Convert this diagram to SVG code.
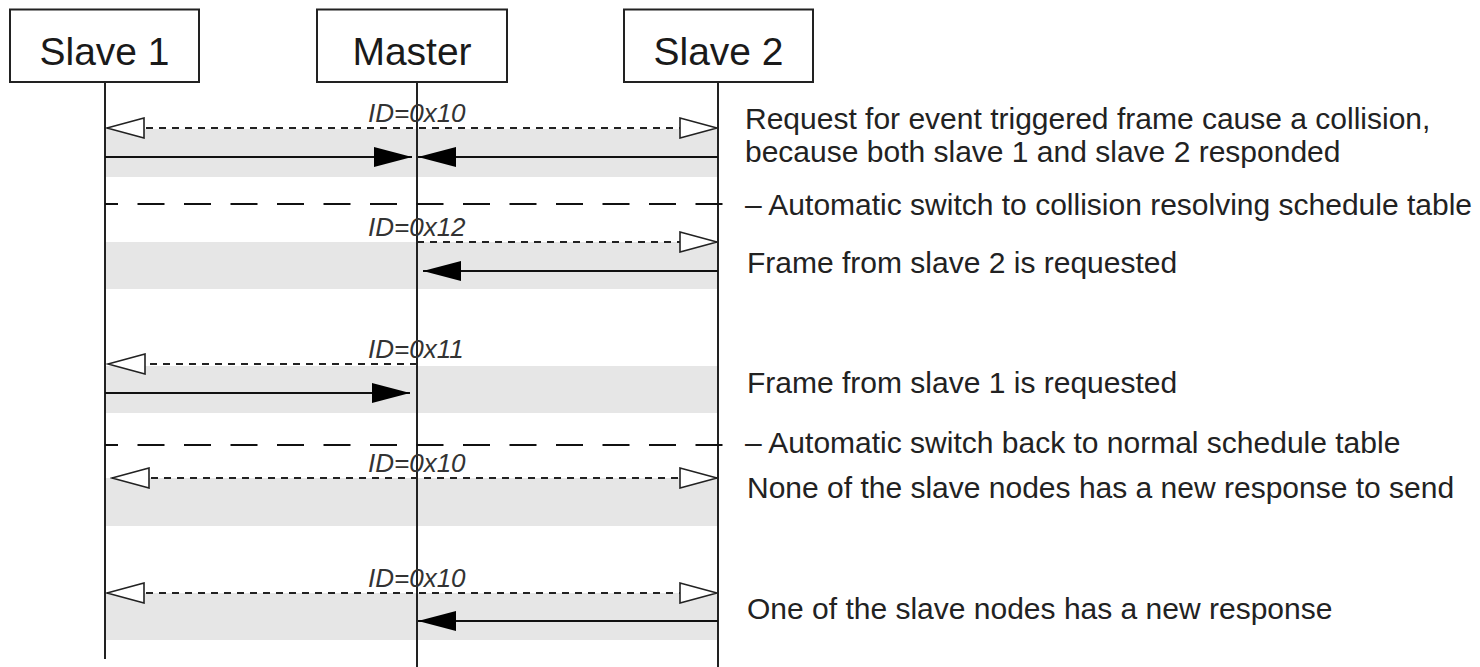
<svg xmlns="http://www.w3.org/2000/svg" width="1480" height="667" viewBox="0 0 1480 667">
<style>
.box{fill:#fff;stroke:#222;stroke-width:2}
.nlabel{font-family:"Liberation Sans",Arial,sans-serif;font-size:39px;fill:#1a1a1a;text-anchor:middle}
.life{stroke:#222;stroke-width:2;fill:none}
.band{fill:#e6e6e6}
.req{stroke:#222;stroke-width:2;stroke-dasharray:7 6;fill:none}
.resp{stroke:#111;stroke-width:2;fill:none}
.sw{stroke:#111;stroke-width:2;stroke-dasharray:27 19.5;stroke-dashoffset:14;fill:none}
.id{font-family:"Liberation Sans",Arial,sans-serif;font-size:26px;font-style:italic;fill:#333}
.note{font-family:"Liberation Sans",Arial,sans-serif;font-size:30px;fill:#222}
</style>
<defs>
<marker id="open" viewBox="0 0 40 22" markerWidth="40" markerHeight="22" refX="38" refY="11" orient="auto-start-reverse" markerUnits="userSpaceOnUse">
<path d="M1,1 L38,11 L1,21 Z" fill="#fff" stroke="#222" stroke-width="1.6"/>
</marker>
<marker id="solid" viewBox="0 0 38 20" markerWidth="38" markerHeight="20" refX="38" refY="10" orient="auto-start-reverse" markerUnits="userSpaceOnUse">
<path d="M0,0 L38,10 L0,20 Z" fill="#000"/>
</marker>
</defs>
<rect width="1480" height="667" fill="#fff"/>
<g id="bands">
<rect class="band" x="105" y="129" width="613" height="48"/>
<rect class="band" x="105" y="242" width="613" height="47"/>
<rect class="band" x="105" y="366" width="613" height="47"/>
<rect class="band" x="105" y="478" width="613" height="48"/>
<rect class="band" x="105" y="593" width="613" height="47"/>
</g>
<g id="lifelines">
<line class="life" x1="105" y1="82" x2="105" y2="659"/>
<line class="life" x1="417" y1="82" x2="417" y2="667"/>
<line class="life" x1="718" y1="82" x2="718" y2="667"/>
</g>
<g id="slave1">
<rect class="box" x="10" y="9.5" width="189" height="72.5"/>
<text class="nlabel" x="104.5" y="65">Slave 1</text>
</g>
<g id="master">
<rect class="box" x="317" y="9.5" width="190" height="72.5"/>
<text class="nlabel" x="412" y="65">Master</text>
</g>
<g id="slave2">
<rect class="box" x="624" y="9.5" width="189" height="72.5"/>
<text class="nlabel" x="718.5" y="65">Slave 2</text>
</g>
<g id="connectors">
<line class="req" x1="107" y1="128" x2="717" y2="128" marker-start="url(#open)" marker-end="url(#open)"/>
<line class="resp" x1="105" y1="157" x2="412" y2="157" marker-end="url(#solid)"/>
<line class="resp" x1="718" y1="157" x2="418" y2="157" marker-end="url(#solid)"/>
<line class="sw" x1="105" y1="204" x2="725" y2="204"/>
<line class="req" x1="417" y1="242" x2="717" y2="242" marker-end="url(#open)"/>
<line class="resp" x1="718" y1="271" x2="423" y2="271" marker-end="url(#solid)"/>
<line class="req" x1="417" y1="364" x2="108" y2="364" marker-end="url(#open)"/>
<line class="resp" x1="105" y1="393" x2="410" y2="393" marker-end="url(#solid)"/>
<line class="sw" x1="105" y1="445" x2="725" y2="445"/>
<line class="req" x1="112" y1="478" x2="717" y2="478" marker-start="url(#open)" marker-end="url(#open)"/>
<line class="req" x1="107" y1="593" x2="717" y2="593" marker-start="url(#open)" marker-end="url(#open)"/>
<line class="resp" x1="718" y1="621" x2="418" y2="621" marker-end="url(#solid)"/>
</g>
<g id="labels">
<text class="id" x="368" y="122">ID=0x10</text>
<text class="id" x="368" y="236">ID=0x12</text>
<text class="id" x="368" y="358">ID=0x11</text>
<text class="id" x="368" y="472">ID=0x10</text>
<text class="id" x="368" y="587">ID=0x10</text>
</g>
<g id="notes">
<text class="note" x="745" y="129">Request for event triggered frame cause a collision,</text>
<text class="note" x="745" y="162">because both slave 1 and slave 2 responded</text>
<text class="note" x="745" y="215">– Automatic switch to collision resolving schedule table</text>
<text class="note" x="747" y="273">Frame from slave 2 is requested</text>
<text class="note" x="747" y="393">Frame from slave 1 is requested</text>
<text class="note" x="745" y="453">– Automatic switch back to normal schedule table</text>
<text class="note" x="747" y="498">None of the slave nodes has a new response to send</text>
<text class="note" x="747" y="619">One of the slave nodes has a new response</text>
</g>
</svg>
